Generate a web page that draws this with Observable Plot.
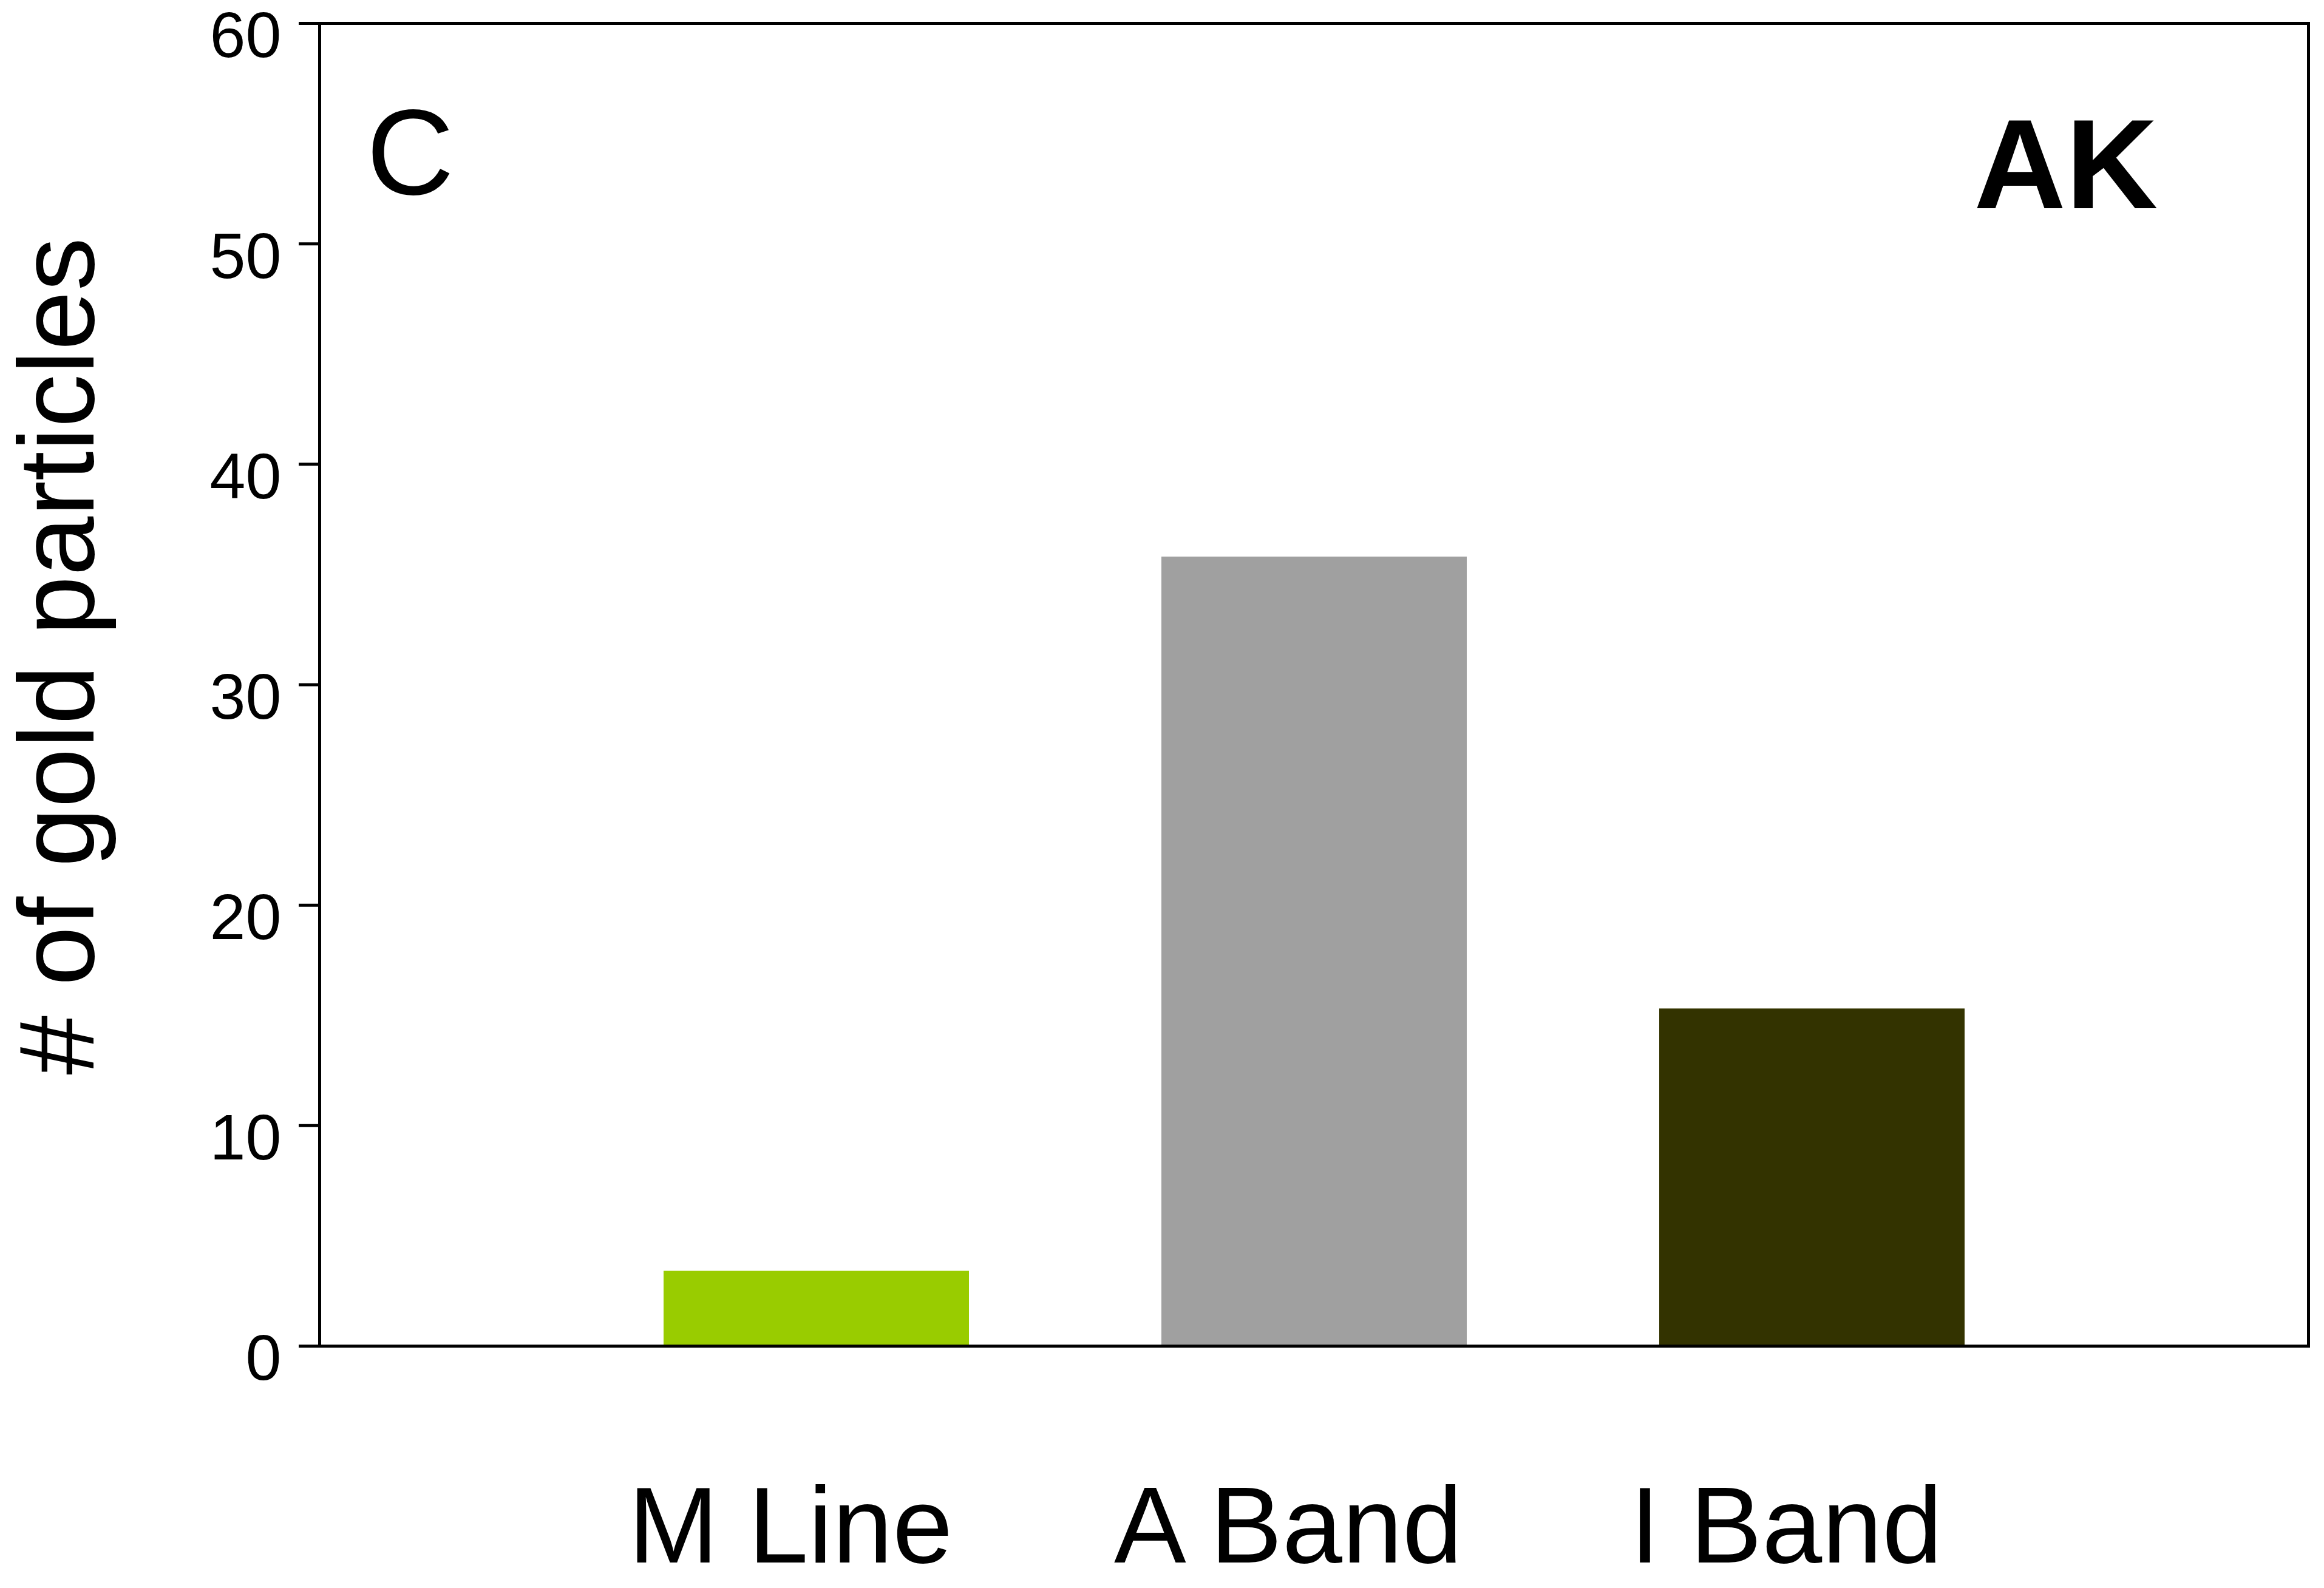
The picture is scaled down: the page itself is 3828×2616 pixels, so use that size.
<!DOCTYPE html>
<html><head><meta charset="utf-8">
<script src="https://cdn.jsdelivr.net/npm/d3@7"></script>
<script src="https://cdn.jsdelivr.net/npm/@observablehq/plot@0.6"></script>
<style>html,body{margin:0;padding:0;background:#fff;}</style>
</head><body><div id="chart"></div>
<script>
const categories = ["M Line", "A Band", "I Band"];
const counts = [3.4, 35.8, 15.3];
const barColors = ["#99cc00", "#a0a0a0", "#333300"];
const yTicks = [0, 10, 20, 30, 40, 50, 60];
const yTitle = "# of gold particles";
const panelLetter = "C";
const panelTag = "AK";

const data = categories.map((c, i) => ({category: c, count: counts[i]}));

const chart = Plot.plot({
  width: 3828, height: 2616,
  marginLeft: 526, marginRight: 26, marginTop: 38, marginBottom: 399,
  style: {fontFamily: '"Liberation Sans", Arial, sans-serif', background: "#fff", color: "#000"},
  x: {domain: categories, range: [934, 3394], paddingInner: 0.387, paddingOuter: 0.1935},
  y: {domain: [0, 60]},
  color: {domain: categories, range: barColors},
  marks: [
    Plot.barY(data, {x: "category", y: "count", fill: "category"}),
    Plot.frame({stroke: "#000", strokeWidth: 5}),
    Plot.axisY({ticks: yTicks, tickSize: 34, tickFormat: () => "", strokeWidth: 5, label: null}),
    Plot.axisY({ticks: yTicks, tickSize: 0, tickPadding: 63, fontSize: 106, dy: 22, label: null}),
    Plot.axisX({tickSize: 0, tickPadding: 230, fontSize: 178, dx: -43, label: null}),
    Plot.text([yTitle], {text: d => d, frameAnchor: "left", textAnchor: "middle", rotate: -90, lineAnchor: "bottom", dx: -373, dy: -47, fontSize: 176}),
    Plot.text([panelLetter], {text: d => d, frameAnchor: "top-left", textAnchor: "start", lineAnchor: "bottom", dx: 77, dy: 281, fontSize: 200}),
    Plot.text([panelTag], {text: d => d, frameAnchor: "top-right", textAnchor: "end", lineAnchor: "bottom", dx: -248, dy: 304, fontSize: 210, fontWeight: "bold"})
  ]
});
document.getElementById("chart").appendChild(chart);
</script>
</body></html>
